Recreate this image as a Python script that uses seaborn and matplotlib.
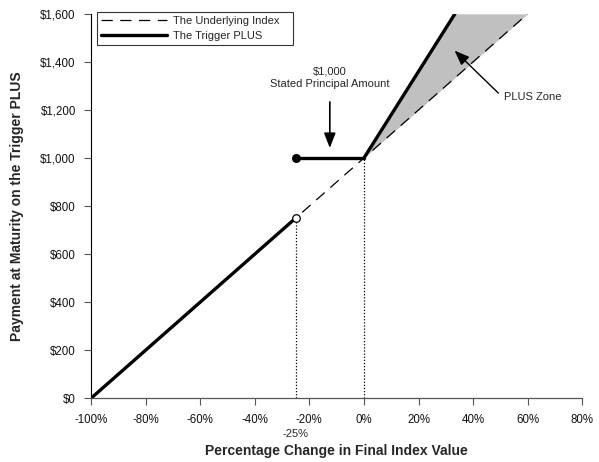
import matplotlib
matplotlib.use("Agg")
import matplotlib.pyplot as plt
import numpy as np
import pandas as pd
import seaborn as sns

sns.set_style("ticks")
plt.rcParams['font.family'] = ['Liberation Sans', 'DejaVu Sans']

# data
underlying_x = [-100, 60]
underlying_y = [0, 1600]
trig_low_x = [-100, -25]
trig_low_y = [0, 750]
trig_flat_x = [-25, 0]
trig_flat_y = [1000, 1000]
trig_up_x = [0, 33.33]
trig_up_y = [1000, 1600]
zone_x = [0, 33.33, 60]
zone_top = [1000, 1600, 1600]
zone_bottom = [1000, 1333.3, 1600]
x_ticks = [-100, -80, -60, -40, -20, 0, 20, 40, 60, 80]
y_ticks = [0, 200, 400, 600, 800, 1000, 1200, 1400, 1600]

fig, ax = plt.subplots(figsize=(5.99, 4.62), dpi=100)

ax.fill_between(zone_x, zone_bottom, zone_top, color="#c0c0c0", lw=0, zorder=1)

under = pd.DataFrame({"x": underlying_x, "y": underlying_y})
sns.lineplot(data=under, x="x", y="y", ax=ax, color="black", lw=0.9,
             dashes=False, zorder=2)
ax.lines[-1].set_dashes((9, 6))
l_under = ax.lines[-1]

for xs, ys in [(trig_low_x, trig_low_y), (trig_flat_x, trig_flat_y), (trig_up_x, trig_up_y)]:
    sns.lineplot(x=xs, y=ys, ax=ax, color="black", lw=2.4, zorder=3)
l_trig = ax.lines[-1]

# dotted guides
ax.plot([-25, -25], [0, 750], color="black", lw=0.9, ls=(0, (1, 1.5)), zorder=2)
ax.plot([0, 0], [0, 1000], color="black", lw=0.9, ls=(0, (1, 1.5)), zorder=2)

# markers
ax.scatter([-25], [1000], s=30, color="black", zorder=5)
ax.scatter([-25], [750], s=30, facecolor="white", edgecolor="black", lw=0.9, zorder=5)

ax.text(-12.5, 1362, "$1,000", ha="center", va="center", fontsize=8)
ax.text(-12.5, 1308, "Stated Principal Amount", ha="center", va="center", fontsize=8)
ax.annotate("", xy=(-12.5, 1030), xytext=(-12.5, 1245),
            arrowprops=dict(arrowstyle="-|>,head_length=0.9,head_width=0.35", color="black", lw=1.2))
ax.annotate("", xy=(32.5, 1455), xytext=(50, 1262),
            arrowprops=dict(arrowstyle="-|>,head_length=0.9,head_width=0.35", color="black", lw=1))
ax.text(51.5, 1253, "PLUS Zone", ha="left", va="center", fontsize=8)

ax.set_xlim(-100, 80)
ax.set_ylim(0, 1600)
ax.set_xticks(x_ticks)
ax.set_xticklabels([f"{v}%" for v in x_ticks])
ax.set_yticks(y_ticks)
ax.set_yticklabels([f"${v:,}" for v in y_ticks])
ax.tick_params(labelsize=8.3, length=5, width=0.8, color="#555555", labelcolor="#111111")
ax.tick_params(axis="x", pad=6)
ax.tick_params(axis="y", pad=6)
ax.text(-25, -0.08, "-25%", transform=ax.get_xaxis_transform(), ha="center", va="top", fontsize=8)
for s in ["top", "right"]:
    ax.spines[s].set_visible(False)
ax.spines["left"].set_linewidth(0.8)
ax.spines["left"].set_color("black")
ax.spines["bottom"].set_linewidth(0.9)
ax.spines["bottom"].set_color("#555555")

ax.set_xlabel("Percentage Change in Final Index Value", fontsize=10, fontweight="bold", labelpad=13)
ax.set_ylabel("Payment at Maturity on the Trigger PLUS", fontsize=10, fontweight="bold", labelpad=12)

leg = ax.legend([l_under, l_trig], ["The Underlying Index   ", "The Trigger PLUS"],
                loc="upper left", bbox_to_anchor=(0.012, 1.005), fontsize=8, frameon=True, fancybox=False,
                edgecolor="black", handlelength=6.0, borderpad=0.35, labelspacing=0.5,
                handletextpad=0.5, borderaxespad=0.0)
leg.get_frame().set_linewidth(0.8)

fig.subplots_adjust(left=0.152, right=0.972, top=0.97, bottom=0.138)
fig.savefig("out.png", dpi=100)
